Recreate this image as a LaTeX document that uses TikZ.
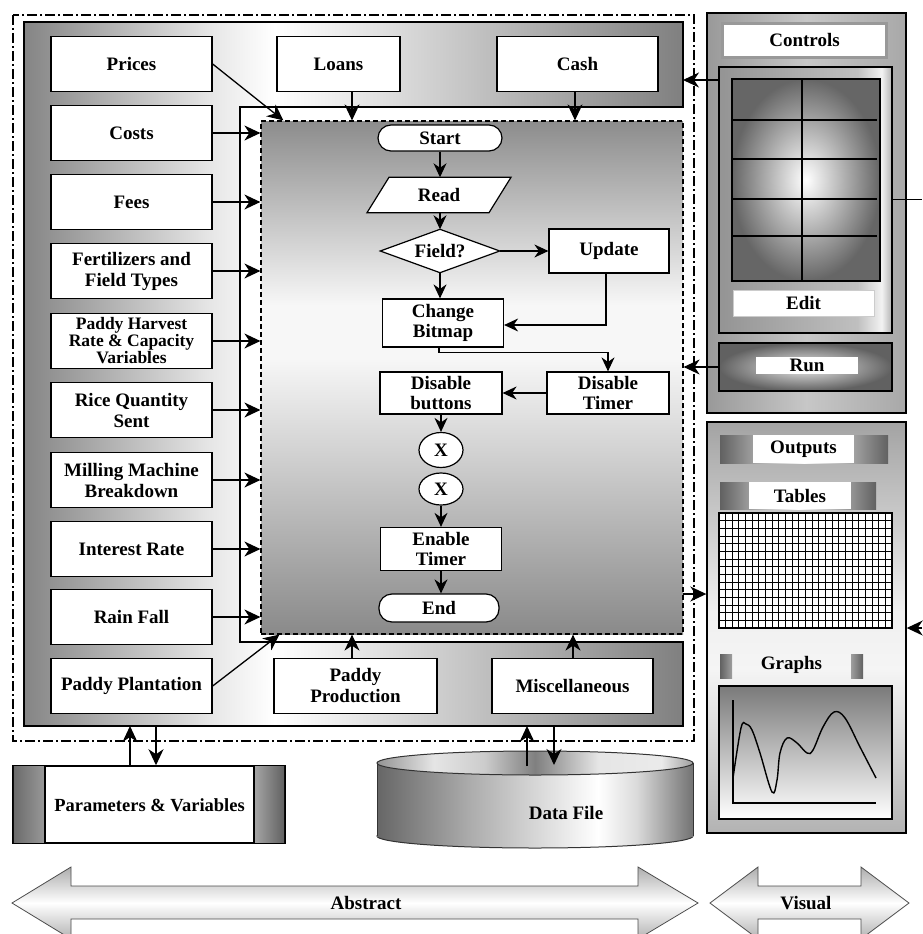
\documentclass[tikz,border=0pt]{standalone}
\usepackage{fontspec}
\setmainfont{Liberation Serif}
\usetikzlibrary{arrows.meta,shapes.geometric,calc}
\newcommand\lblfont{\bfseries\fontsize{19}{21}\selectfont}
\newcommand\flwfont{\bfseries\fontsize{19}{19.5}\selectfont}
\newcommand\smlfont{\bfseries\fontsize{17.5}{17}\selectfont}
\pgfdeclarehorizontalshading{panelsh}{100bp}{color(0bp)=(black!48); color(25bp)=(black!48); color(39bp)=(black!10); color(44bp)=(white); color(52bp)=(black!12); color(75bp)=(black!50); color(100bp)=(black!50)}
\pgfdeclareverticalshading{flowsh}{100bp}{color(0bp)=(black!46); color(25bp)=(black!46); color(52bp)=(black!3); color(57bp)=(black!3); color(75bp)=(black!45); color(100bp)=(black!45)}
\pgfdeclarehorizontalshading{ctrlsh}{100bp}{color(0bp)=(black!40); color(25bp)=(black!40); color(50bp)=(black!22); color(75bp)=(black!34); color(100bp)=(black!34)}
\pgfdeclarehorizontalshading{gfsh}{100bp}{color(0bp)=(black!42); color(25bp)=(black!42); color(65bp)=(black!25); color(72bp)=(black!5); color(75bp)=(black!30); color(100bp)=(black!30)}
\pgfdeclareverticalshading{outsh}{100bp}{color(0bp)=(black!30); color(25bp)=(black!30); color(45bp)=(black!4); color(52bp)=(black!6); color(75bp)=(black!36); color(100bp)=(black!36)}
\pgfdeclareverticalshading{graphsh}{100bp}{color(0bp)=(white); color(25bp)=(white); color(75bp)=(black!52); color(100bp)=(black!52)}
\pgfdeclarehorizontalshading{endsh}{100bp}{color(0bp)=(black!62); color(25bp)=(black!62); color(50bp)=(white); color(75bp)=(black!62); color(100bp)=(black!62)}
\pgfdeclarehorizontalshading{cylsh}{100bp}{color(0bp)=(black!60); color(25bp)=(black!60); color(40bp)=(black!32); color(55bp)=(black!8); color(60bp)=(white); color(66bp)=(black!14); color(75bp)=(black!55); color(100bp)=(black!55)}
\pgfdeclarehorizontalshading{cyltopsh}{100bp}{color(0bp)=(black!42); color(25bp)=(black!42); color(34bp)=(black!10); color(42bp)=(black!20); color(50bp)=(black!50); color(60bp)=(black!10); color(70bp)=(black!8); color(75bp)=(black!38); color(100bp)=(black!38)}
\pgfdeclareverticalshading{dblsh}{100bp}{color(0bp)=(black!30); color(25bp)=(black!30); color(50bp)=(white); color(75bp)=(black!32); color(100bp)=(black!32)}
\begin{document}
\begin{tikzpicture}[x=1pt,y=-1pt,
  lbox/.style={draw=black, line width=1.3pt, fill=white, minimum width=161pt, minimum height=55pt, inner sep=1pt, align=center, font=\lblfont,
    append after command={\pgfextra{\draw[black!45, line width=1.2pt] ([xshift=-2pt,yshift=-1pt]\tikzlastnode.north east) -- ([xshift=-2pt,yshift=1pt]\tikzlastnode.south east);}}},
  fbox/.style={draw=black, line width=1.2pt, fill=white, inner sep=0pt, align=center, font=\flwfont},
  ghost/.style={inner sep=0pt, align=center, font=\flwfont},
  arr/.style={line width=1.3pt, -{Stealth[length=16pt,width=15pt,inset=5pt]}},
  farr/.style={line width=1.2pt, -{Stealth[length=14pt,width=13pt,inset=4.5pt]}},
  wlabel/.style={fill=white, inner sep=0pt, font=\lblfont},
  rpanel/.style={draw=black, line width=1.4pt, shade, inner sep=0pt}
]
\useasboundingbox (0,0) rectangle (922,934);

% outer dash-dot frame
\draw[line width=1.5pt, dash pattern=on 10pt off 3pt on 2pt off 3pt] (13,15) rectangle (694,741);

% gray panel
\shadedraw[shading=panelsh, draw=black, line width=1.3pt] (24,22) -- (683,22) -- (683,107) -- (240,107) -- (240,642) -- (683,642) -- (683,726) -- (24,726) -- cycle;

% flowchart area
\node[draw=black, line width=1.2pt, dash pattern=on 5pt off 3pt, shade, shading=flowsh, minimum width=422pt, minimum height=513pt, inner sep=0pt] (flow) at (472,377.5) {};

% left column
\node[lbox] (prices) at (131.5,64) {Prices};
\node[lbox] (costs) at (131.5,133) {Costs};
\node[lbox] (fees) at (131.5,202) {Fees};
\node[lbox] (fert) at (131.5,271) {Fertilizers and\\Field Types};
\node[lbox, font=\smlfont] (harv) at (131.5,341) {Paddy Harvest\\Rate \& Capacity\\Variables};
\node[lbox] (rice) at (131.5,410) {Rice Quantity\\Sent};
\node[lbox] (mill) at (131.5,480) {Milling Machine\\Breakdown};
\node[lbox] (intr) at (131.5,549) {Interest Rate};
\node[lbox] (rain) at (131.5,617) {Rain Fall};
\node[lbox] (plant) at (131.5,686) {Paddy Plantation};

% top and bottom boxes
\node[lbox, minimum width=123pt] (loans) at (338.5,64) {Loans};
\node[lbox] (cash) at (577.5,64) {Cash};
\node[lbox, minimum width=163pt] (pprod) at (355.5,686) {Paddy\\Production};
\node[lbox] (misc) at (572.5,686) {Miscellaneous};

% arrows into flow area
\draw[arr] (prices.east) -- ($(flow.north west)+(23,0)$);
\foreach \n in {costs,fees,fert,harv,rice,mill,intr,rain}
  \draw[arr] (\n.east) -- (\n.east -| flow.west);
\draw[arr] (plant.east) -- ($(flow.south west)+(19,0)$);
\draw[arr] ([xshift=13.5pt]loans.south) -- ([xshift=13.5pt]loans.south |- flow.north);
\draw[arr] ([xshift=-2.5pt]cash.south) -- ([xshift=-2.5pt]cash.south |- flow.north);
\draw[arr] ([xshift=-3.5pt]pprod.north) -- ([xshift=-3.5pt]pprod.north |- flow.south);
\draw[arr] ([xshift=0.5pt]misc.north) -- ([xshift=0.5pt]misc.north |- flow.south);

% flowchart
\node[fbox, rounded corners=13pt, minimum width=124pt, minimum height=26pt] (start) at (440,138) {Start};
\node[ghost, minimum width=125pt, minimum height=35pt] (read) at (439,195) {};
\filldraw[fill=white, draw=black, line width=1.2pt] ([xshift=-50pt]read.north) -- ([xshift=72pt]read.north) -- ([xshift=50pt]read.south) -- ([xshift=-72pt]read.south) -- cycle;
\node[ghost] at (read.center) {Read};
\node[ghost, minimum width=119pt, minimum height=43pt] (field) at (440,251) {};
\filldraw[fill=white, draw=black, line width=1.2pt] (field.west) -- (field.north) -- (field.east) -- (field.south) -- cycle;
\node[ghost] at (field.center) {Field?};
\node[fbox, minimum width=120pt, minimum height=44pt] (update) at (609,251) {Update};
\node[fbox, minimum width=121pt, minimum height=48pt] (cbit) at (443,323) {Change\\Bitmap};
\node[fbox, minimum width=122pt, minimum height=42pt] (dtimer) at (608,393) {Disable\\Timer};
\node[fbox, minimum width=122pt, minimum height=42pt] (dbutt) at (441,393) {Disable\\buttons};
\node[fbox, ellipse, minimum width=44pt, minimum height=35pt] (x1) at (441,450) {X};
\node[fbox, ellipse, minimum width=44pt, minimum height=32pt] (x2) at (441,489) {X};
\node[fbox, minimum width=121pt, minimum height=43pt] (etimer) at (441,549) {Enable\\Timer};
\node[fbox, rounded corners=13pt, minimum width=120pt, minimum height=28pt] (endn) at (439,608) {End};

\draw[farr] (start.south) -- (start.south |- read.north);
\draw[farr] (read.south -| field.north) -- (field.north);
\draw[farr] (field.south) -- (field.south |- cbit.north);
\draw[farr] (field.east) -- (update.west);
\draw[farr] ([xshift=-3pt]update.south) |- ([yshift=-2pt]cbit.east);
\draw[farr] ([xshift=-4pt]cbit.south) -- ++(0,5) -| (dtimer.north);
\draw[farr] (dtimer.west) -- (dbutt.east);
\draw[farr] (dbutt.south) -- (dbutt.south |- x1.north);
\draw[farr] (x2.south) -- (x2.south |- etimer.north);
\draw[farr] (etimer.south) -- (etimer.south |- endn.north);

% controls panel
\node[rpanel, shading=ctrlsh, minimum width=199pt, minimum height=400pt] (ctrlpanel) at (806.5,213) {};
\node[fill=white, draw=black!40, line width=3.5pt, minimum width=164pt, minimum height=34pt, inner sep=0pt, font=\lblfont] (ctrlbar) at (804.5,40.5) {Controls};
\node[rpanel, shading=gfsh, line width=1.2pt, minimum width=173pt, minimum height=266pt] (gridframe) at (805.5,200) {};
\node[draw=black, line width=1.2pt, inner color=white, outer color=black!60, minimum width=148pt, minimum height=202pt, inner sep=0pt] (grid) at (806,180) {};
\draw[line width=1.1pt] (802,79) -- (802,281);
\foreach \yy in {120,159,199,236} \draw[line width=1.1pt] (732,\yy) -- (877,\yy);
\node[fill=white, draw=black!20, minimum width=141pt, minimum height=26pt, inner sep=0pt, font=\lblfont] (edit) at (803.5,303) {Edit};
\node[draw=black, line width=1.2pt, inner color=black!8, outer color=black!62, minimum width=173pt, minimum height=48pt, inner sep=0pt] (runframe) at (805.5,367) {};
\node[fill=white, minimum width=102pt, minimum height=17pt, inner sep=0pt, font=\lblfont] (run) at (807,365) {Run};
\coordinate (pc) at (683,80);
\draw[arr] (gridframe.west |- pc) -- (pc);
\draw[arr] (runframe.west) -- (runframe.west -| flow.east);
\coordinate (ge) at (922,199);
\draw[line width=1pt] (gridframe.east |- ge) -- (ge);

% outputs panel
\node[rpanel, shading=outsh, minimum width=199pt, minimum height=411pt] (outpanel) at (806.5,627.5) {};
\shade[shading=endsh] (720,435) rectangle (888,463);
\node[wlabel, minimum width=101pt, minimum height=28pt] (outs) at (803.5,449) {Outputs};
\shade[shading=endsh] (720,482) rectangle (876,509);
\node[wlabel, minimum width=102pt, minimum height=27pt] (tabs) at (800,495.5) {Tables};
\node[draw=black, line width=1.4pt, fill=white, minimum width=173pt, minimum height=115pt, inner sep=0pt] (tablegrid) at (805.5,570.5) {};
\foreach \i in {1,...,25} \draw[line width=1pt] (719+\i*6.654,513) -- (719+\i*6.654,628);
\foreach \j in {1,...,14} \draw[line width=1pt] (719,513+\j*7.667) -- (892,513+\j*7.667);
\shade[left color=black!62, right color=black!38] (720,654) rectangle (732,678);
\shade[left color=black!38, right color=black!62] (851,654) rectangle (863,678);
\node[font=\lblfont, inner sep=0pt] (graphs) at (791.5,665) {Graphs};
\node[rpanel, shading=graphsh, line width=2pt, minimum width=173pt, minimum height=133pt] (graphbox) at (805.5,752.5) {};
\draw[line width=1.2pt] (733,700) -- (733,803) -- (876,803);
\draw[line width=1.4pt] plot[smooth, tension=0.6] coordinates {(733,778) (741,728) (746,724) (752,730) (760,753) (772,792) (777,780) (780,753) (787,738) (797,743) (807,753) (813,750) (823,727) (834,712) (845,718) (860,747) (876,778)};
\coordinate (o1) at (683,594);
\draw[arr] (o1) -- (o1 -| outpanel.west);
\coordinate (rin) at (922,628);
\draw[arr] (rin) -- (rin -| outpanel.east);

% parameters box
\node[draw=black, line width=1.5pt, fill=white, minimum width=272pt, minimum height=77pt, inner sep=0pt] (params) at (149,804.5) {};
\shade[left color=black!58, right color=black!40] (13.8,766.8) rectangle (45,842.2);
\shade[left color=black!35, right color=black!62] (254,766.8) rectangle (284.2,842.2);
\draw[line width=1.5pt] (45,766) -- (45,843) (254,766) -- (254,843);
\node[font=\bfseries\fontsize{18.5}{20}\selectfont, inner sep=0pt] (ptext) at (149.5,805) {Parameters \& Variables};
\coordinate (pb) at (0,726);
\draw[arr] ([xshift=-19pt]params.north) -- ([xshift=-19pt]params.north |- pb);
\draw[arr] ([xshift=7pt]params.north |- pb) -- ([xshift=7pt]params.north);

% data file cylinder
\shadedraw[shading=cylsh, draw=black!80, line width=1pt] (535,836) ellipse [x radius=158, y radius=12];
\shade[shading=cylsh] (377,763) rectangle (693,836);
\draw[black!80, line width=1pt] (377,763) -- (377,836) (693,763) -- (693,836);
\shadedraw[shading=cyltopsh, draw=black!80, line width=1pt] (535,763) ellipse [x radius=158, y radius=12];
\node[font=\lblfont, inner sep=0pt] (dfile) at (566,813) {Data File};
\coordinate (dup) at (527,766);
\coordinate (ddn) at (554,765);
\draw[arr] (dup) -- (dup |- pb);
\draw[arr] (ddn |- pb) -- (ddn);

% bottom double arrows
\shadedraw[shading=dblsh, draw=black!70, line width=0.8pt] (12,903) -- (71,867) -- (71,886) -- (638,886) -- (638,867) -- (698,903) -- (638,939) -- (638,919) -- (71,919) -- (71,939) -- cycle;
\shadedraw[shading=dblsh, draw=black!70, line width=0.8pt] (710,903) -- (758,867) -- (758,886) -- (861,886) -- (861,867) -- (909,903) -- (861,939) -- (861,919) -- (758,919) -- (758,939) -- cycle;
\node[font=\lblfont, inner sep=0pt] (abs) at (366,903) {Abstract};
\node[font=\lblfont, inner sep=0pt] (vis) at (806,903) {Visual};
\end{tikzpicture}
\end{document}
